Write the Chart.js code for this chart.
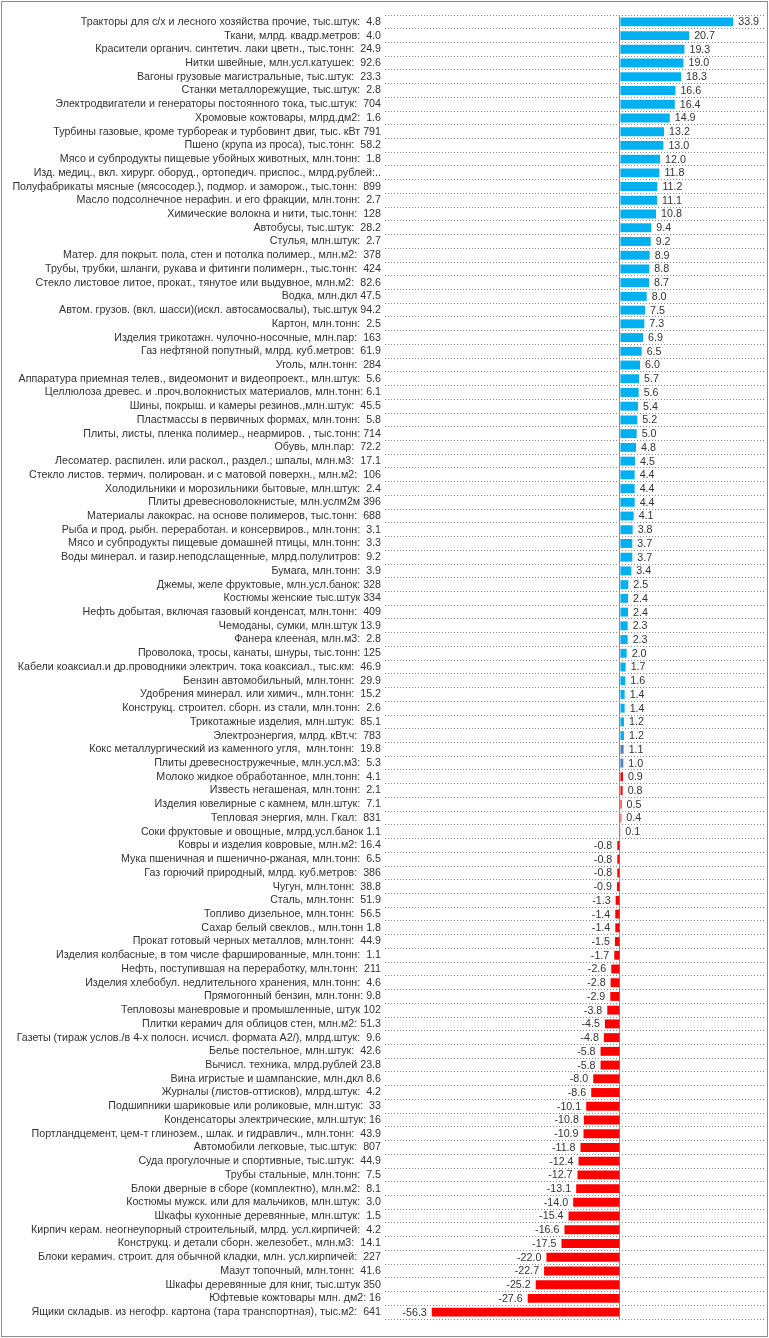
<!DOCTYPE html>
<html>
<head>
<meta charset="utf-8">
<script src="https://cdn.jsdelivr.net/npm/chart.js@4/dist/chart.umd.min.js"></script>
<style>
html,body{margin:0;padding:0;background:#fff;}
#wrap{width:769px;height:1338px;}
</style>
</head>
<body>
<div id="wrap"><canvas id="c" width="769" height="1338"></canvas></div>
<script>
const categories = [
"Тракторы для с/х и лесного хозяйства прочие, тыс.штук:  4.8",
"Ткани, млрд. квадр.метров:  4.0",
"Красители органич. синтетич. лаки цветн., тыс.тонн:  24.9",
"Нитки швейные, млн.усл.катушек:  92.6",
"Вагоны грузовые магистральные, тыс.штук:  23.3",
"Станки металлорежущие, тыс.штук:  2.8",
"Электродвигатели и генераторы постоянного тока, тыс.штук:  704",
"Хромовые кожтовары, млрд.дм2:  1.6",
"Турбины газовые, кроме турбореак и турбовинт двиг, тыс. кВт 791",
"Пшено (крупа из проса), тыс.тонн:  58.2",
"Мясо и субпродукты пищевые убойных животных, млн.тонн:  1.8",
"Изд. медиц., вкл. хирург. оборуд., ортопедич. приспос., млрд.рублей:..",
"Полуфабрикаты мясные (мясосодер.), подмор. и заморож., тыс.тонн:  899",
"Масло подсолнечное нерафин. и его фракции, млн.тонн:  2.7",
"Химические волокна и нити, тыс.тонн:  128",
"Автобусы, тыс.штук:  28.2",
"Стулья, млн.штук:  2.7",
"Матер. для покрыт. пола, стен и потолка полимер., млн.м2:  378",
"Трубы, трубки, шланги, рукава и фитинги полимерн., тыс.тонн:  424",
"Стекло листовое литое, прокат., тянутое или выдувное, млн.м2:  82.6",
"Водка, млн.дкл 47.5",
"Автом. грузов. (вкл. шасси)(искл. автосамосвалы), тыс.штук 94.2",
"Картон, млн.тонн:  2.5",
"Изделия трикотажн. чулочно-носочные, млн.пар:  163",
"Газ нефтяной попутный, млрд. куб.метров:  61.9",
"Уголь, млн.тонн:  284",
"Аппаратура приемная телев., видеомонит и видеопроект., млн.штук:  5.6",
"Целлюлоза древес. и .проч.волокнистых материалов, млн.тонн: 6.1",
"Шины, покрыш. и камеры резинов.,млн.штук:  45.5",
"Пластмассы в первичных формах, млн.тонн:  5.8",
"Плиты, листы, пленка полимер., неармиров. , тыс.тонн: 714",
"Обувь, млн.пар:  72.2",
"Лесоматер. распилен. или раскол., раздел.; шпалы, млн.м3:  17.1",
"Стекло листов. термич. полирован. и с матовой поверхн., млн.м2:  106",
"Холодильники и морозильники бытовые, млн.штук:  2.4",
"Плиты древесноволокнистые, млн.услм2м 396",
"Материалы лакокрас. на основе полимеров, тыс.тонн:  688",
"Рыба и прод. рыбн. переработан. и консервиров., млн.тонн:  3.1",
"Мясо и субпродукты пищевые домашней птицы, млн.тонн:  3.3",
"Воды минерал. и газир.неподслащенные, млрд.полулитров:  9.2",
"Бумага, млн.тонн:  3.9",
"Джемы, желе фруктовые, млн.усл.банок: 328",
"Костюмы женские тыс.штук 334",
"Нефть добытая, включая газовый конденсат, млн.тонн:  409",
"Чемоданы, сумки, млн.штук 13.9",
"Фанера клееная, млн.м3:  2.8",
"Проволока, тросы, канаты, шнуры, тыс.тонн: 125",
"Кабели коаксиал.и др.проводники электрич. тока коаксиал., тыс.км:  46.9",
"Бензин автомобильный, млн.тонн:  29.9",
"Удобрения минерал. или химич., млн.тонн:  15.2",
"Конструкц. строител. сборн. из стали, млн.тонн:  2.6",
"Трикотажные изделия, млн.штук:  85.1",
"Электроэнергия, млрд. кВт.ч:  783",
"Кокс металлургический из каменного угля,  млн.тонн:  19.8",
"Плиты древесностружечные, млн.усл.м3:  5.3",
"Молоко жидкое обработанное, млн.тонн:  4.1",
"Известь негашеная, млн.тонн:  2.1",
"Изделия ювелирные с камнем, млн.штук:  7.1",
"Тепловая энергия, млн. Гкал:  831",
"Соки фруктовые и овощные, млрд.усл.банок 1.1",
"Ковры и изделия ковровые, млн.м2: 16.4",
"Мука пшеничная и пшенично-ржаная, млн.тонн:  6.5",
"Газ горючий природный, млрд. куб.метров:  386",
"Чугун, млн.тонн:  38.8",
"Сталь, млн.тонн:  51.9",
"Топливо дизельное, млн.тонн:  56.5",
"Сахар белый свеклов., млн.тонн 1.8",
"Прокат готовый черных металлов, млн.тонн:  44.9",
"Изделия колбасные, в том числе фаршированные, млн.тонн:  1.1",
"Нефть, поступившая на переработку, млн.тонн:  211",
"Изделия хлебобул. недлительного хранения, млн.тонн:  4.6",
"Прямогонный бензин, млн.тонн: 9.8",
"Тепловозы маневровые и промышленные, штук 102",
"Плитки керамич для облицов стен, млн.м2: 51.3",
"Газеты (тираж услов./в 4-х полосн. исчисл. формата А2/), млрд.штук:  9.6",
"Белье постельное, млн.штук:  42.6",
"Вычисл. техника, млрд.рублей 23.8",
"Вина игристые и шампанские, млн.дкл 8.6",
"Журналы (листов-оттисков), млрд.штук:  4.2",
"Подшипники шариковые или роликовые, млн.штук:  33",
"Конденсаторы электрические, млн.штук: 16",
"Портландцемент, цем-т глинозем., шлак. и гидравлич., млн.тонн:  43.9",
"Автомобили легковые, тыс.штук:  807",
"Суда прогулочные и спортивные, тыс.штук:  44.9",
"Трубы стальные, млн.тонн:  7.5",
"Блоки дверные в сборе (комплектно), млн.м2:  8.1",
"Костюмы мужск. или для мальчиков, млн.штук:  3.0",
"Шкафы кухонные деревянные, млн.штук:  1.5",
"Кирпич керам. неогнеупорный строительный, млрд. усл.кирпичей:  4.2",
"Конструкц. и детали сборн. железобет., млн.м3:  14.1",
"Блоки керамич. строит. для обычной кладки, млн. усл.кирпичей:  227",
"Мазут топочный, млн.тонн:  41.6",
"Шкафы деревянные для книг, тыс.штук 350",
"Юфтевые кожтовары млн. дм2: 16",
"Ящики складыв. из негофр. картона (тара транспортная), тыс.м2:  641"
];
const values = [
33.9, 20.7, 19.3, 19.0, 18.3, 16.6, 16.4, 14.9, 13.2, 13.0,
12.0, 11.8, 11.2, 11.1, 10.8, 9.4, 9.2, 8.9, 8.8, 8.7,
8.0, 7.5, 7.3, 6.9, 6.5, 6.0, 5.7, 5.6, 5.4, 5.2,
5.0, 4.8, 4.5, 4.4, 4.4, 4.4, 4.1, 3.8, 3.7, 3.7,
3.4, 2.5, 2.4, 2.4, 2.3, 2.3, 2.0, 1.7, 1.6, 1.4,
1.4, 1.2, 1.2, 1.1, 1.0, 0.9, 0.8, 0.5, 0.4, 0.1,
-0.8, -0.8, -0.8, -0.9, -1.3, -1.4, -1.4, -1.5, -1.7, -2.6,
-2.8, -2.9, -3.8, -4.5, -4.8, -5.8, -5.8, -8.0, -8.6, -10.1,
-10.8, -10.9, -11.8, -12.4, -12.7, -13.1, -14.0, -15.4, -16.6, -17.5,
-22.0, -22.7, -25.2, -27.6, -56.3
];

const FONT = "'Liberation Sans', Arial, sans-serif";
const TEXT_COLOR = '#333333';

function barColor(v) {
  if (v >= 1.15) return '#00B0F0';
  if (v >= 0.95) return '#4F81BD';
  return '#FF0000';
}

const framePlugin = {
  id: 'frame',
  beforeDraw(chart) {
    const ctx = chart.ctx;
    ctx.save();
    ctx.fillStyle = '#ffffff';
    ctx.fillRect(0, 0, chart.width, chart.height);
    ctx.restore();
  },
  afterDraw(chart) {
    const ctx = chart.ctx;
    ctx.save();
    ctx.strokeStyle = '#8c8c8c';
    ctx.lineWidth = 1;
    ctx.strokeRect(1.5, 1.5, chart.width - 3, chart.height - 3);
    ctx.restore();
  }
};

const valueLabels = {
  id: 'valueLabels',
  afterDatasetsDraw(chart) {
    const ctx = chart.ctx;
    const meta = chart.getDatasetMeta(0);
    ctx.save();
    ctx.font = '10.7px ' + FONT;
    ctx.fillStyle = TEXT_COLOR;
    ctx.textBaseline = 'middle';
    meta.data.forEach((bar, i) => {
      const v = values[i];
      const txt = v.toFixed(1);
      if (v >= 0) {
        ctx.textAlign = 'left';
        ctx.fillText(txt, bar.x + 5, bar.y + 0.5);
      } else {
        ctx.textAlign = 'right';
        ctx.fillText(txt, bar.x - 5, bar.y + 0.5);
      }
    });
    ctx.restore();
  }
};

new Chart(document.getElementById('c'), {
  type: 'bar',
  data: {
    labels: categories,
    datasets: [{
      data: values,
      backgroundColor: (c) => barColor(c.raw),
      borderWidth: 0,
      barPercentage: 0.65,
      categoryPercentage: 1.0
    }]
  },
  options: {
    indexAxis: 'y',
    responsive: false,
    animation: false,
    devicePixelRatio: 1,
    layout: { padding: { left: 0, right: 4, top: 15, bottom: 19 } },
    plugins: {
      legend: { display: false },
      tooltip: { enabled: false }
    },
    scales: {
      x: {
        min: -70.3,
        max: 43.4,
        ticks: { display: false },
        grid: {
          drawTicks: false,
          lineWidth: 1,
          color: (c) => (c.tick && c.tick.value === 0) ? '#8a8a8a' : 'rgba(0,0,0,0)'
        },
        border: { display: false },
        afterBuildTicks: (s) => { s.ticks = [{ value: 0 }]; },
        afterFit: (s) => { s.height = 0; }
      },
      y: {
        ticks: {
          autoSkip: false,
          padding: 4,
          color: TEXT_COLOR,
          font: { family: FONT, size: 10.7 }
        },
        grid: {
          drawTicks: false,
          offset: true,
          lineWidth: 1,
          color: '#8a8a8a'
        },
        border: { display: false, dash: [1, 2] },
        afterFit: (s) => { s.width = 385; }
      }
    }
  },
  plugins: [framePlugin, valueLabels]
});
</script>
</body>
</html>
